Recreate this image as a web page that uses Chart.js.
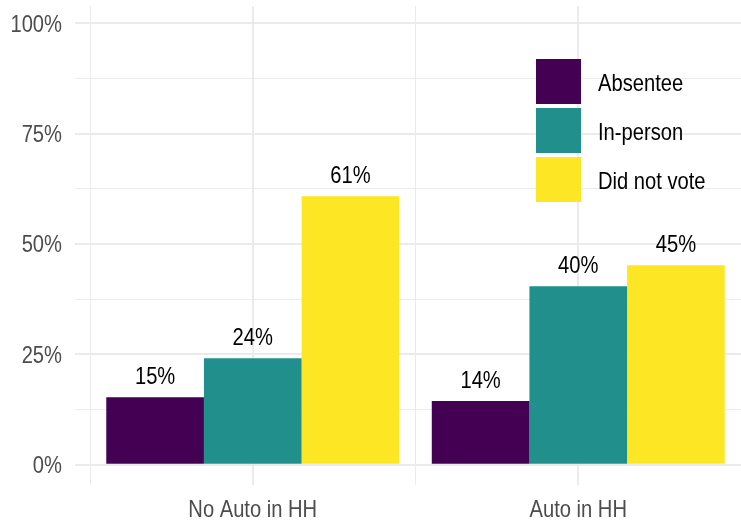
<!DOCTYPE html>
<html>
<head>
<meta charset="utf-8">
<script src="https://cdn.jsdelivr.net/npm/chart.js@4"></script>
<style>
  html, body { margin: 0; padding: 0; background: #ffffff; }
  #wrap { width: 741px; height: 523px; }
</style>
</head>
<body>
<div id="wrap"><canvas id="c" width="741" height="523"></canvas></div>
<script>
const categories = ["No Auto in HH", "Auto in HH"];
const seriesNames = ["Absentee", "In-person", "Did not vote"];
const absentee = [15.3, 14.4];
const inPerson = [24.1, 40.4];
const didNotVote = [60.8, 45.2];
const yTicks = [0, 12.5, 25, 37.5, 50, 62.5, 75, 87.5, 100];
const yTickLabels = {0: "0%", 25: "25%", 50: "50%", 75: "75%", 100: "100%"};
const colors = ["#440154", "#21908C", "#FDE725"];

const FONT = "24px 'Liberation Sans', Arial, sans-serif";
const NARROW = 0.84;
const GRID = "#EBEBEB";
const AXIS_TEXT = "#4D4D4D";

function narrowText(ctx, text, x, y, align, color) {
  ctx.save();
  ctx.font = FONT;
  ctx.fillStyle = color;
  ctx.textAlign = align;
  ctx.textBaseline = "alphabetic";
  ctx.translate(x, y);
  ctx.scale(NARROW, 1);
  ctx.fillText(text, 0, 0);
  ctx.restore();
}

const centerLines = {
  id: "centerLines",
  beforeDatasetsDraw(chart) {
    const { ctx, chartArea, scales } = chart;
    ctx.save();
    ctx.strokeStyle = GRID;
    ctx.lineWidth = 2;
    categories.forEach((c, i) => {
      const x = Math.round(scales.x.getPixelForValue(i));
      ctx.beginPath();
      ctx.moveTo(x, chartArea.top);
      ctx.lineTo(x, chartArea.bottom);
      ctx.stroke();
    });
    ctx.restore();
  }
};

const texts = {
  id: "texts",
  afterDraw(chart) {
    const { ctx, scales, chartArea } = chart;
    Object.keys(yTickLabels).forEach(k => {
      const y = scales.y.getPixelForValue(Number(k));
      narrowText(ctx, yTickLabels[k], scales.y.right - 28, y + 8.5, "right", AXIS_TEXT);
    });
    categories.forEach((c, i) => {
      const x = scales.x.getPixelForValue(i);
      narrowText(ctx, c, x, chartArea.bottom + 31.5, "center", AXIS_TEXT);
    });
    chart.data.datasets.forEach((ds, di) => {
      const meta = chart.getDatasetMeta(di);
      meta.data.forEach((el, i) => {
        narrowText(ctx, Math.round(ds.data[i]) + "%", el.x, el.y - 13.5, "center", "#000000");
      });
    });
    const x0 = 536, y0 = 59, box = 45, step = 49;
    chart.data.datasets.forEach((ds, i) => {
      const y = y0 + i * step;
      ctx.fillStyle = ds.backgroundColor;
      ctx.fillRect(x0, y, box, box);
      narrowText(ctx, ds.label, x0 + 62, y + box / 2 + 9, "left", "#000000");
    });
  }
};

new Chart(document.getElementById("c"), {
  type: "bar",
  data: {
    labels: categories,
    datasets: [
      { label: seriesNames[0], data: absentee, backgroundColor: colors[0] },
      { label: seriesNames[1], data: inPerson, backgroundColor: colors[1] },
      { label: seriesNames[2], data: didNotVote, backgroundColor: colors[2] }
    ]
  },
  options: {
    responsive: false,
    animation: false,
    devicePixelRatio: 1,
    layout: { padding: { top: 6, right: 0, bottom: 0, left: 0 } },
    datasets: { bar: { categoryPercentage: 0.9, barPercentage: 1.0, borderWidth: 0 } },
    plugins: { legend: { display: false }, tooltip: { enabled: false } },
    scales: {
      x: {
        type: "category",
        offset: true,
        border: { display: false },
        grid: { offset: true, color: GRID, lineWidth: 1, drawTicks: false },
        ticks: { display: false },
        afterFit(scale) { scale.height = 38; }
      },
      y: {
        min: -4.6,
        max: 103.9,
        border: { display: false },
        afterBuildTicks(scale) { scale.ticks = yTicks.map(v => ({ value: v })); },
        grid: {
          color: GRID,
          tickColor: GRID,
          tickLength: 15,
          lineWidth: (ctx) => (ctx.tick && yTickLabels[ctx.tick.value] !== undefined ? 2 : 1),
          tickWidth: (ctx) => (ctx.tick && yTickLabels[ctx.tick.value] !== undefined ? 2 : 1)
        },
        ticks: { display: false, autoSkip: false },
        afterFit(scale) { scale.width = 90; }
      }
    }
  },
  plugins: [centerLines, texts]
});
</script>
</body>
</html>
